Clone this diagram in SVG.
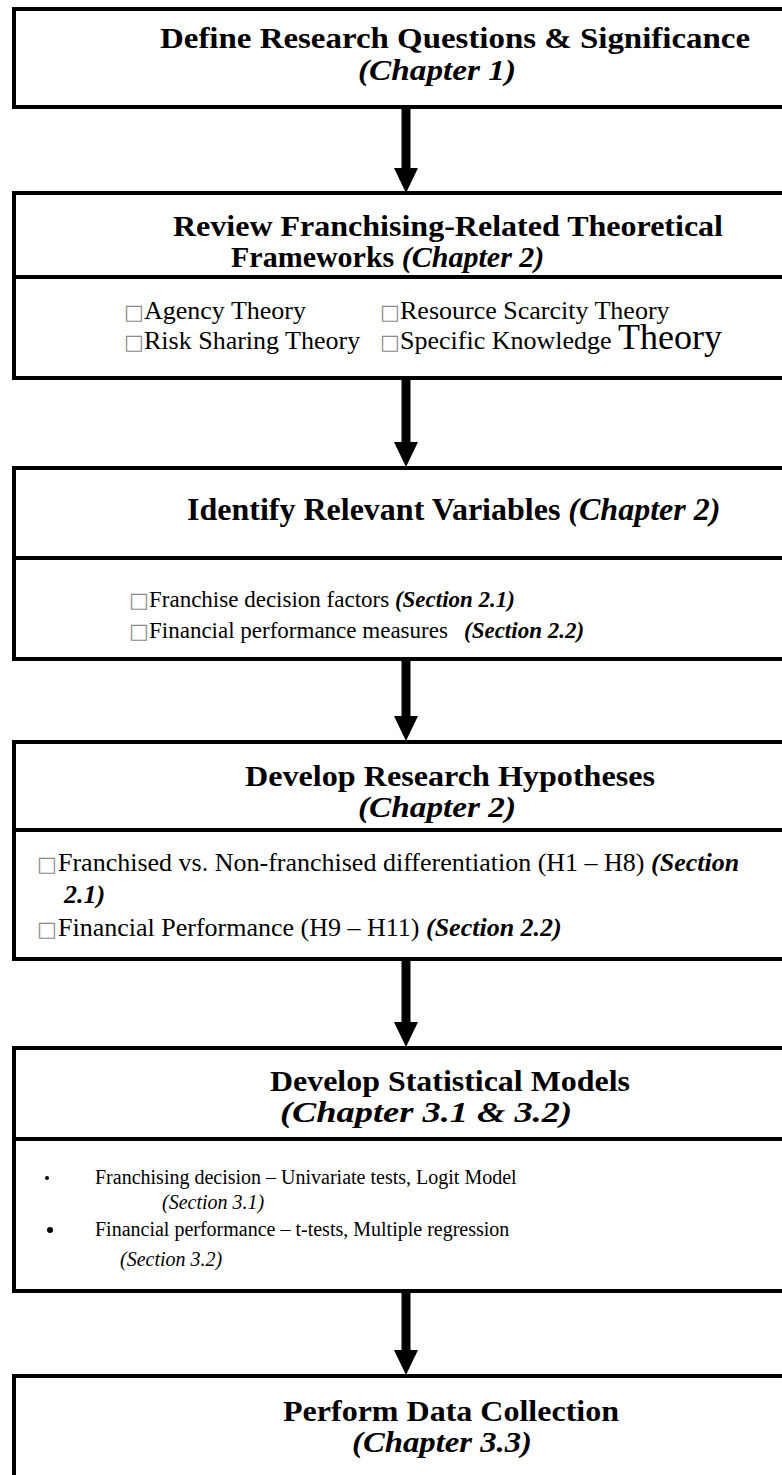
<svg xmlns="http://www.w3.org/2000/svg" width="782" height="1475" viewBox="0 0 782 1475">
<style>
.box{fill:#fff;stroke:#000;stroke-width:4}
.div{stroke:#000;stroke-width:4}
.t{font-family:"Liberation Serif","Times New Roman",serif;fill:#000}
.bi{font-weight:bold;font-style:italic}
.h{font-size:30px;font-weight:bold}
.hi{font-size:30px;font-weight:bold;font-style:italic}
.sq{fill:#8a8a8a;font-family:"DejaVu Sans",sans-serif;font-size:21px;font-weight:normal;font-style:normal}
.shaft{stroke:#000;stroke-width:9}
</style>
<defs>
<marker id="ah" viewBox="0 0 25 24" refX="0" refY="12" markerWidth="25" markerHeight="24" markerUnits="userSpaceOnUse" orient="auto">
<path d="M0,0 L25,12 L0,24 Z" fill="#000"/>
</marker>
</defs>
<g id="connectors">
<line class="shaft" x1="406" y1="107" x2="406" y2="168" marker-end="url(#ah)"/>
<line class="shaft" x1="406" y1="378" x2="406" y2="442" marker-end="url(#ah)"/>
<line class="shaft" x1="406" y1="659" x2="406" y2="716" marker-end="url(#ah)"/>
<line class="shaft" x1="406" y1="959" x2="406" y2="1022" marker-end="url(#ah)"/>
<line class="shaft" x1="406" y1="1291" x2="406" y2="1350" marker-end="url(#ah)"/>
</g>
<g id="node1">
<rect class="box" x="14" y="9" width="790" height="98"/>
<text class="t h" x="160" y="48" textLength="590" lengthAdjust="spacingAndGlyphs">Define Research Questions &amp; Significance</text>
<text class="t hi" x="358" y="80" textLength="158" lengthAdjust="spacingAndGlyphs">(Chapter 1)</text>
</g>
<g id="node2">
<rect class="box" x="14" y="193" width="790" height="185"/>
<line class="div" x1="14" y1="277" x2="804" y2="277"/>
<text class="t h" x="173" y="236" textLength="550" lengthAdjust="spacingAndGlyphs">Review Franchising-Related Theoretical</text>
<text class="t h" x="231" y="267">Frameworks <tspan font-style="italic">(Chapter 2)</tspan></text>
<text class="t" font-size="26" y="319"><tspan class="sq" x="124">□</tspan><tspan x="144">Agency Theory</tspan></text>
<text class="t" font-size="26" y="319"><tspan class="sq" x="380">□</tspan><tspan x="400">Resource Scarcity Theory</tspan></text>
<text class="t" font-size="26" y="349"><tspan class="sq" x="124">□</tspan><tspan x="144">Risk Sharing Theory</tspan></text>
<text class="t" font-size="26" y="349"><tspan class="sq" x="380">□</tspan><tspan x="400">Specific Knowledge </tspan><tspan font-size="36">Theory</tspan></text>
</g>
<g id="node3">
<rect class="box" x="14" y="468" width="790" height="191"/>
<line class="div" x1="14" y1="558" x2="804" y2="558"/>
<text class="t" font-size="32" font-weight="bold" x="187" y="520">Identify Relevant Variables <tspan font-style="italic">(Chapter 2)</tspan></text>
<text class="t" font-size="23" y="607"><tspan class="sq" x="129">□</tspan><tspan x="149">Franchise decision factors </tspan><tspan class="bi">(Section 2.1)</tspan></text>
<text class="t" font-size="23" y="638"><tspan class="sq" x="129">□</tspan><tspan x="149">Financial performance measures</tspan><tspan class="bi" x="464">(Section 2.2)</tspan></text>
</g>
<g id="node4">
<rect class="box" x="14" y="742" width="790" height="217"/>
<line class="div" x1="14" y1="830" x2="804" y2="830"/>
<text class="t h" x="245" y="786" textLength="410" lengthAdjust="spacingAndGlyphs">Develop Research Hypotheses</text>
<text class="t hi" x="358" y="817" textLength="158" lengthAdjust="spacingAndGlyphs">(Chapter 2)</text>
<text class="t" font-size="26" y="871"><tspan class="sq" x="37">□</tspan><tspan x="58">Franchised vs. Non-franchised differentiation (H1 – H8) </tspan><tspan class="bi">(Section</tspan></text>
<text class="t bi" font-size="26" x="64" y="903">2.1)</text>
<text class="t" font-size="26" y="936"><tspan class="sq" x="37">□</tspan><tspan x="58">Financial Performance (H9 – H11) </tspan><tspan class="bi">(Section 2.2)</tspan></text>
</g>
<g id="node5">
<rect class="box" x="14" y="1048" width="790" height="243"/>
<line class="div" x1="14" y1="1139" x2="804" y2="1139"/>
<text class="t h" x="270" y="1091" textLength="360" lengthAdjust="spacingAndGlyphs">Develop Statistical Models</text>
<text class="t hi" x="280" y="1122" textLength="292" lengthAdjust="spacingAndGlyphs">(Chapter 3.1 &amp; 3.2)</text>
<circle cx="47" cy="1178" r="2"/>
<text class="t" font-size="20" x="95" y="1184">Franchising decision – Univariate tests, Logit Model</text>
<text class="t" font-size="20" font-style="italic" x="162" y="1209">(Section 3.1)</text>
<circle cx="50" cy="1230" r="3"/>
<text class="t" font-size="20" x="95" y="1236">Financial performance – t-tests, Multiple regression</text>
<text class="t" font-size="20" font-style="italic" x="120" y="1266">(Section 3.2)</text>
</g>
<g id="node6">
<rect class="box" x="14" y="1376" width="790" height="120"/>
<text class="t h" x="283" y="1421" textLength="336" lengthAdjust="spacingAndGlyphs">Perform Data Collection</text>
<text class="t hi" x="352" y="1452" textLength="180" lengthAdjust="spacingAndGlyphs">(Chapter 3.3)</text>
</g>
</svg>
